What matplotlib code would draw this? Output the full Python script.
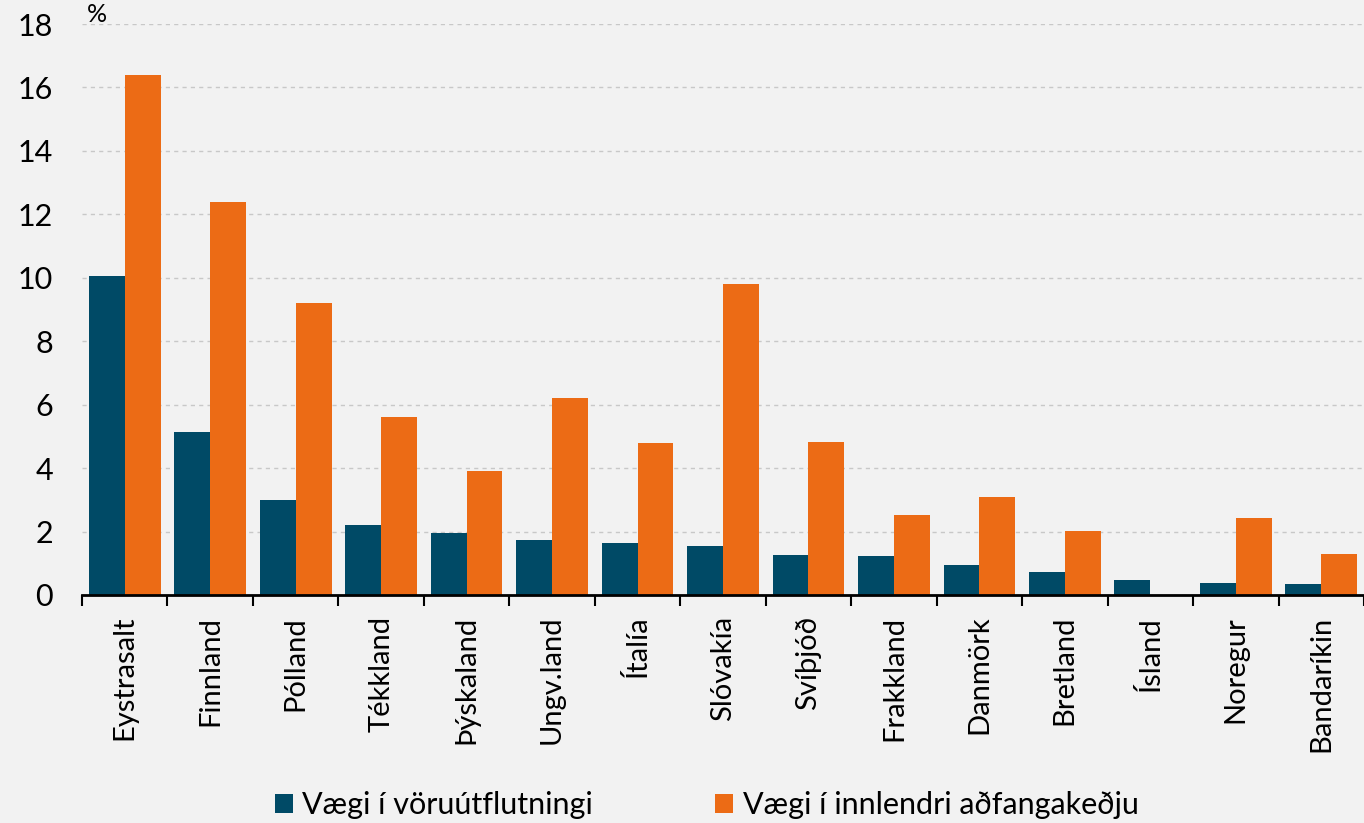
import matplotlib.pyplot as plt
import numpy as np

# Vægi landa í vöruútflutningi og innlendri aðfangakeðju (%)
countries = ["Eystrasalt", "Finnland", "Pólland", "Tékkland", "Þýskaland",
             "Ungv.land", "Ítalía", "Slóvakía", "Svíþjóð", "Frakkland",
             "Danmörk", "Bretland", "Ísland", "Noregur", "Bandaríkin"]
export_share = [10.05, 5.15, 3.0, 2.22, 1.95, 1.72, 1.65, 1.55, 1.26, 1.22,
                0.94, 0.72, 0.46, 0.39, 0.36]
supply_share = [16.4, 12.4, 9.2, 5.6, 3.9, 6.2, 4.8, 9.8, 4.82, 2.51,
                3.09, 2.01, 0.0, 2.42, 1.29]

teal = "#004A66"
orange = "#EC6B15"
bg = "#F2F2F2"

plt.rcParams["font.family"] = ["Lato", "DejaVu Sans"]

fig = plt.figure(figsize=(13.64, 8.23), dpi=100, facecolor=bg)
ax = fig.add_axes([82/1364, 1-595/823, 1-82/1364, (595-24)/823])
ax.set_facecolor(bg)

x = np.arange(len(countries))
w = 0.42
ax.bar(x - w/2, export_share, w, color=teal, label="Vægi í vöruútflutningi", zorder=3)
ax.bar(x + w/2, supply_share, w, color=orange, label="Vægi í innlendri aðfangakeðju", zorder=3)

ax.set_xlim(-0.5, len(countries) - 0.5)
ax.set_ylim(0, 18)
ax.set_yticks(range(0, 19, 2))
ax.grid(axis="y", ls=(0, (3, 3)), color="#C8C8C8", lw=1, zorder=0)

ax.set_xticks(x)
ax.set_xticklabels(countries, rotation=90, va="top", ha="center")
ax.set_xticks(np.arange(-0.5, len(countries)), minor=True)
ax.tick_params(axis="x", which="major", length=0, pad=15, labelsize=21)
ax.tick_params(axis="x", which="minor", length=8, width=1.5, direction="out")
ax.tick_params(axis="y", length=0, labelsize=22, pad=21)

for s in ["top", "right", "left"]:
    ax.spines[s].set_visible(False)
ax.spines["bottom"].set_linewidth(2)
ax.spines["bottom"].set_zorder(4)

# "%" unit label, top left
fig.text(87/1364, 1-3/823, "%", fontsize=18, ha="left", va="top")

fig.legend(loc="center", bbox_to_anchor=(0.518, 1-805/823), ncol=2, frameon=False,
           fontsize=22, handlelength=0.6, handleheight=0.6, handletextpad=0.3,
           columnspacing=4.0)

fig.savefig("out.png", dpi=100, facecolor=bg)
